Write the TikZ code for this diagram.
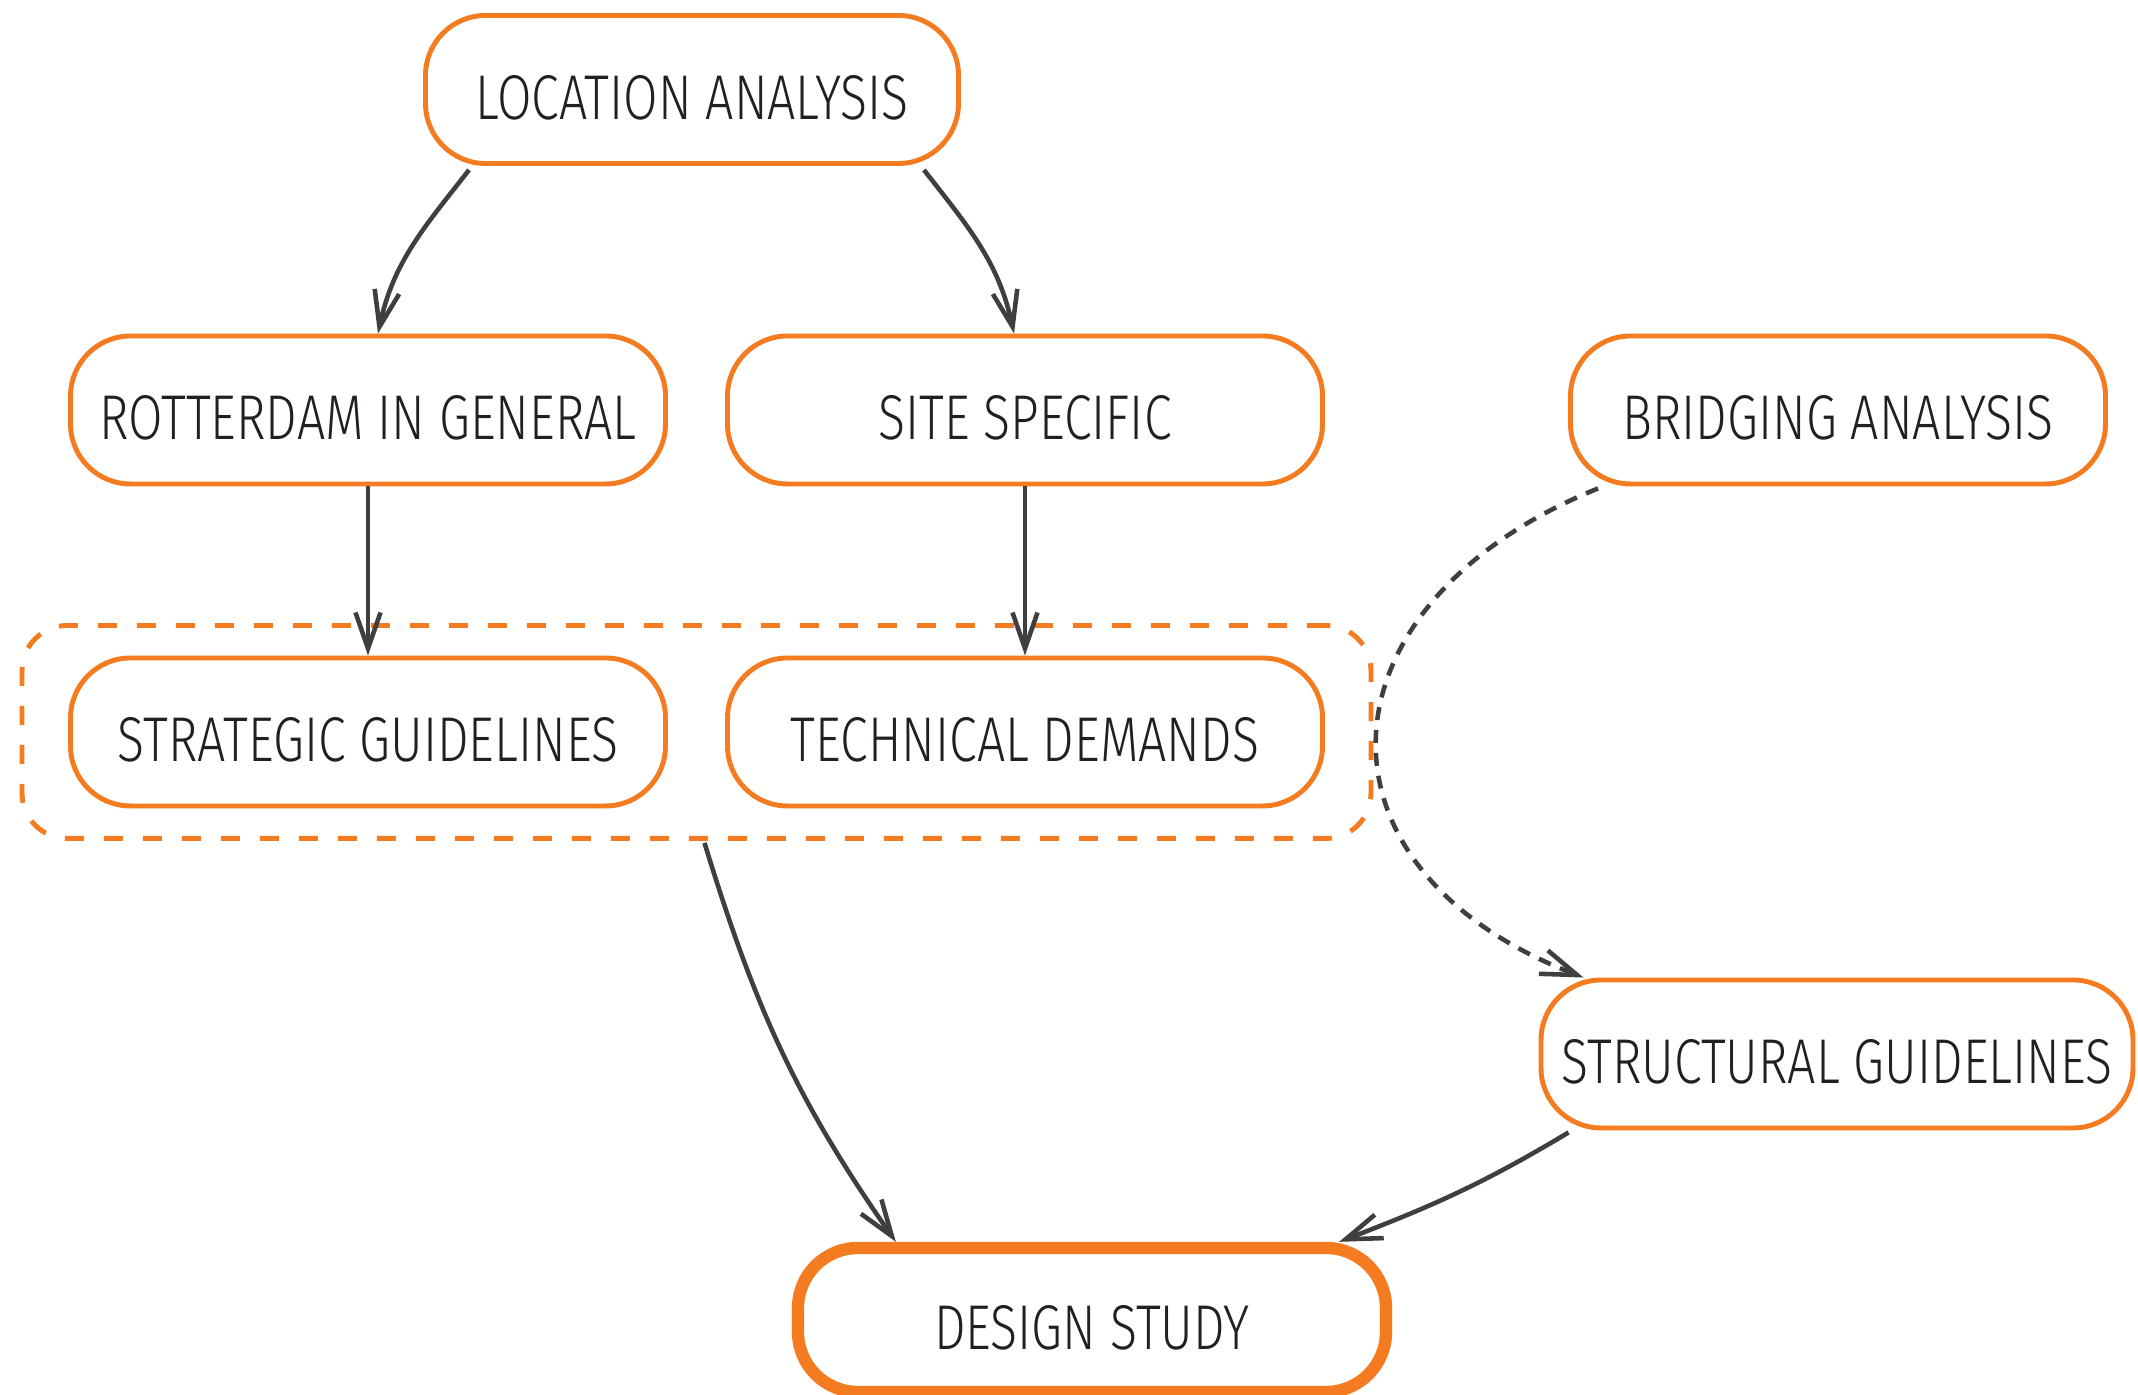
\documentclass[tikz,border=0pt]{standalone}
\usepackage{fontspec}
\setmainfont{Fira Sans}[FakeStretch=0.79,UprightFont={* Light}]
\usetikzlibrary{arrows.meta,fit}
\definecolor{boxorange}{HTML}{F47B20}
\definecolor{ink}{HTML}{231F20}
\definecolor{arrowgray}{HTML}{3F3F3F}
\tikzset{
  card/.style={draw=boxorange,fill=white,line width=1.4pt,rounded corners=0.6cm,
               align=center,inner sep=2pt,minimum width=5.95cm,minimum height=1.48cm,
               text height=0.6cm,text depth=0pt,
               text=ink,font=\fontsize{18}{21}\selectfont},
  keycard/.style={card,line width=3.5pt,minimum width=5.88cm,minimum height=1.44cm},
  groupbox/.style={draw=boxorange,line width=1.4pt,dash pattern=on 1.9mm off 2mm,
                   rounded corners=0.45cm,inner xsep=0.46cm,inner ysep=0.30cm},
  grayarr/.style={-{Straight Barb[length=3.6mm,width=2.5mm]},line width=1.3pt,
                  draw=arrowgray},
  dasharr/.style={grayarr,dash pattern=on 1.3mm off 1mm}
}

\begin{document}
\begin{tikzpicture}[x=1cm,y=1cm]
    \path[use as bounding box] (0,0) rectangle (21.38,13.95);

    \node[card,minimum width=5.33cm] (loc) at (6.92,13.055) {LOCATION ANALYSIS};
    \node[card] (rot) at (3.68,9.85) {ROTTERDAM IN GENERAL};
    \node[card] (site) at (10.25,9.85) {SITE SPECIFIC};
    \node[card,minimum width=5.35cm] (bridge) at (18.38,9.85) {BRIDGING ANALYSIS};
    \node[card] (strat) at (3.68,6.63) {STRATEGIC GUIDELINES};
    \node[card] (tech) at (10.25,6.63) {TECHNICAL DEMANDS};
    \node[groupbox,fit=(strat)(tech)] (grp) {};
    \node[card,minimum width=5.92cm] (struct) at (18.37,3.41) {STRUCTURAL GUIDELINES};
    \node[keycard] (design) at (10.92,0.75) {DESIGN STUDY};

    % location analysis splits in two
    \draw[grayarr] ([xshift=0.46cm,yshift=-0.04cm]loc.south west)
      to[out=-128,in=78] ([xshift=0.1cm]rot.north);
    \draw[grayarr] ([xshift=-0.37cm,yshift=-0.04cm]loc.south east)
      to[out=-52,in=102] ([xshift=-0.11cm]site.north);
    \draw[grayarr] (rot.south) -- (strat.north);
    \draw[grayarr] (site.south) -- (tech.north);

    % both guideline sets feed the design study
    \draw[grayarr] ([xshift=0.08cm,yshift=-0.02cm]grp.south)
      to[out=-73,in=125] ([xshift=1.04cm]design.north west);
    \draw[grayarr] ([xshift=0.3cm,yshift=-0.02cm]struct.south west)
      to[out=-149,in=21] ([xshift=-0.53cm]design.north east);
    \draw[dasharr] ([xshift=0.3cm,yshift=-0.02cm]bridge.south west)
      to[out=202,in=159,looseness=1.6] ([xshift=0.45cm]struct.north west);
  \end{tikzpicture}
\end{document}
